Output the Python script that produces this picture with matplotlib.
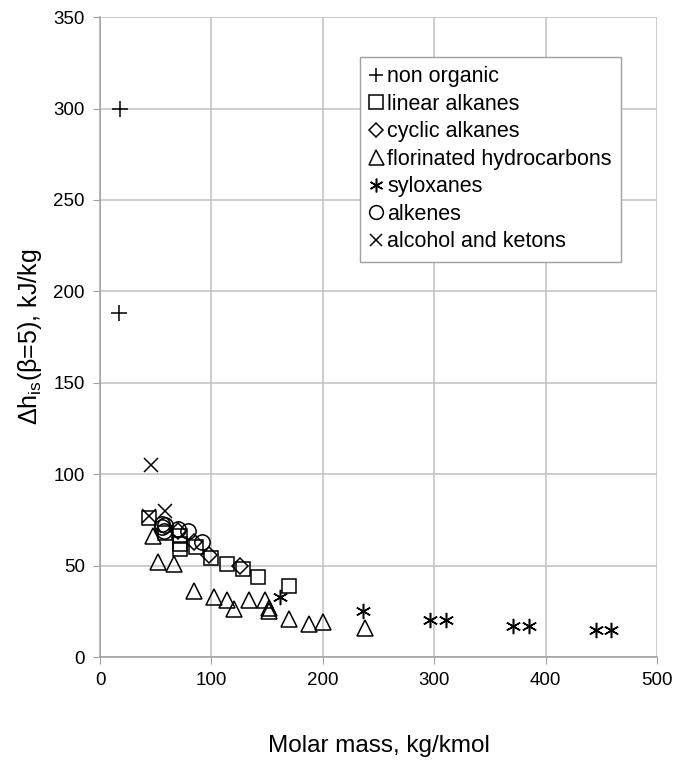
import matplotlib
matplotlib.use("Agg")
import matplotlib.pyplot as plt

plt.rcParams['font.family'] = ['Liberation Sans', 'DejaVu Sans']

# --- data: molar mass (kg/kmol) vs isentropic enthalpy drop (kJ/kg) ---
non_organic_x = [18, 17]
non_organic_y = [300, 188]

linear_x = [44, 58, 72, 72, 72, 86, 100, 114, 128, 142, 170]
linear_y = [76, 68, 66, 62, 59, 60, 54, 51, 48, 44, 39]

cyclic_x = [70, 84, 98, 126]
cyclic_y = [69, 63, 56, 50]

fluoro_x = [48, 52, 66, 84, 102, 114, 120, 134, 148, 152, 152, 170, 188, 200, 238]
fluoro_y = [66, 52, 51, 36, 33, 31, 26, 31, 31, 27, 25, 21, 18, 19, 16]

siloxane_x = [162, 236, 296, 311, 371, 385, 445, 459]
siloxane_y = [33, 25, 20, 20, 17, 17, 15, 15]

alkene_x = [56, 56, 57, 58, 70, 79, 92]
alkene_y = [73, 71, 69, 72, 70, 69, 63]

alcohol_x = [46, 44, 58]
alcohol_y = [105, 77, 80]

fig = plt.figure(figsize=(6.78, 7.6), dpi=100)
ax = fig.add_axes([0.1475, 0.1355, 0.8215, 0.842])

style = dict(linestyle='none', color='black', markerfacecolor='none',
             markeredgecolor='black', markeredgewidth=1.1)

ax.plot(non_organic_x, non_organic_y, marker='+', markersize=11, label='non organic', **style)
ax.plot(linear_x, linear_y, marker='s', markersize=10.5, label='linear alkanes', **style)
ax.plot(cyclic_x, cyclic_y, marker='D', markersize=8, label='cyclic alkanes', **style)
ax.plot(fluoro_x, fluoro_y, marker='^', markersize=12, label='florinated hydrocarbons', **style)
ax.plot(siloxane_x, siloxane_y, marker=(6, 2, 0), markersize=11, label='syloxanes', **style)
ax.plot(alkene_x, alkene_y, marker='o', markersize=11, label='alkenes', **style)
ax.plot(alcohol_x, alcohol_y, marker='x', markersize=10, label='alcohol and ketons', **style)

ax.set_xlim(0, 500)
ax.set_ylim(0, 350)
ax.set_xticks(range(0, 501, 100))
ax.set_yticks(range(0, 351, 50))
ax.grid(True, color='#c0c0c0', linewidth=1.1)
ax.set_axisbelow(True)
for side in ['top', 'right']:
    ax.spines[side].set_visible(False)
for side in ['left', 'bottom']:
    ax.spines[side].set_color('#a0a0a0')
    ax.spines[side].set_linewidth(1.1)
ax.tick_params(axis='both', direction='out', length=5, color='#a0a0a0',
               labelsize=13.5, pad=6)

ax.set_xlabel('Molar mass, kg/kmol', fontsize=17.5, labelpad=33)
ax.set_ylabel(r'Δh$_{\mathregular{is}}$(β=5), kJ/kg', fontsize=18, labelpad=7)

leg = ax.legend(loc='upper left', bbox_to_anchor=(0.467, 0.938), fontsize=15.5,
                frameon=True, fancybox=False, edgecolor='#a0a0a0', framealpha=1,
                handlelength=0.6, handletextpad=0.2, borderpad=0.45,
                labelspacing=0.3, markerscale=0.9, borderaxespad=0)
leg.get_frame().set_linewidth(1.0)

fig.savefig('out.png', dpi=100)
